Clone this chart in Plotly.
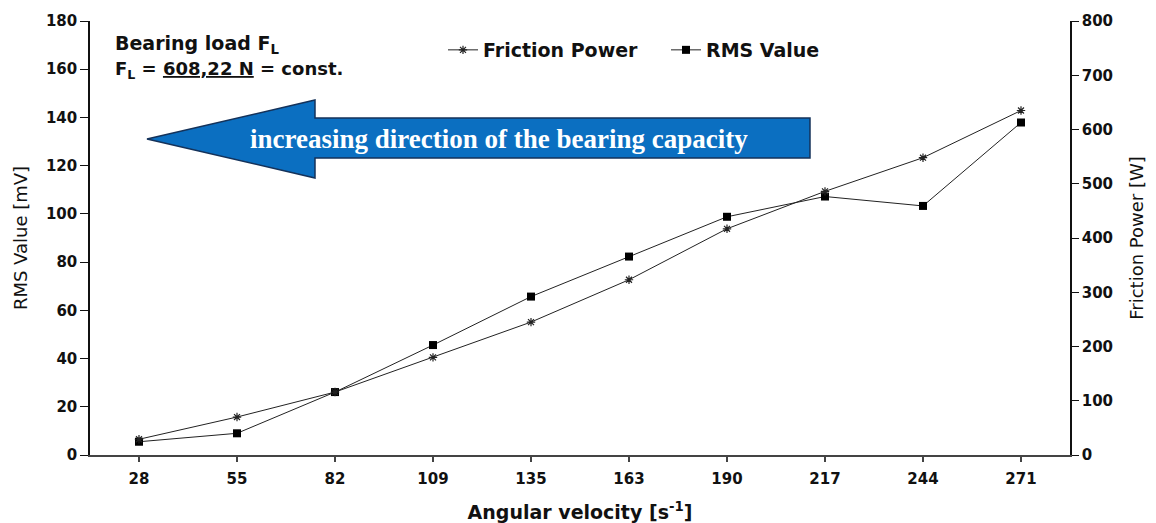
import plotly.graph_objects as go

# ---- data ----
categories = ["28", "55", "82", "109", "135", "163", "190", "217", "244", "271"]
rms_values = [5.5, 9.0, 26.1, 45.6, 65.7, 82.3, 98.8, 107.2, 103.3, 137.9]       # mV (left axis)
friction_power = [29, 70, 116, 180, 245, 323, 417, 486, 548, 635]                 # W (right axis)
left_ticks = [0, 20, 40, 60, 80, 100, 120, 140, 160, 180]
right_ticks = [0, 100, 200, 300, 400, 500, 600, 700, 800]

# ---- page geometry (page pixels; the page body adds an 8px offset) ----
OFF = 8
W, H = 1156, 523
PL, PR, PT, PB = 90, 1070, 21, 455          # plot area edges in page pixels
FW, FH = W - OFF, H - OFF
ML, MT = PL - OFF, PT - OFF
MR = FW - (PR - OFF)
MB = FH - (PB - OFF)
PW, PH = PR - PL, PB - PT


def px(x):
    return (x - PL) / PW


def py(y):
    return (PB - y) / PH


FONT = "DejaVu Sans"
INK = "#111111"

fig = go.Figure()
fig.add_trace(go.Scatter(
    x=categories, y=friction_power, name="Friction Power", yaxis="y2",
    mode="lines+markers",
    line=dict(color="#222222", width=1),
    marker=dict(symbol="asterisk-open", size=7, color="#222222",
                line=dict(color="#222222", width=1.2)),
))
fig.add_trace(go.Scatter(
    x=categories, y=rms_values, name="RMS Value", yaxis="y",
    mode="lines+markers",
    line=dict(color="#222222", width=1),
    marker=dict(symbol="square", size=8, color="#000000"),
))

n = len(categories)
boundaries = [i - 0.5 for i in range(n + 1)]

tickfont = dict(family=FONT, size=15, color=INK, weight="bold")
titlefont = dict(family=FONT, size=18, color=INK)

fig.update_layout(
    width=FW, height=FH,
    margin=dict(l=ML, r=MR, t=MT, b=MB),
    paper_bgcolor="white", plot_bgcolor="white",
    font=dict(family=FONT, color=INK),
    showlegend=True,
    legend=dict(
        orientation="h", x=px(443), y=py(50), xanchor="left", yanchor="middle",
        font=dict(family=FONT, size=19, color=INK, weight="bold"),
        bgcolor="rgba(0,0,0,0)", itemwidth=30,
        entrywidth=178, entrywidthmode="pixels",
    ),
    xaxis=dict(
        type="category", range=[-0.5, n - 0.5], automargin=False,
        showline=True, linecolor="#444444", linewidth=2,
        ticks="outside", ticklen=5, tickcolor="#444444", tickwidth=1.5,
        tickfont=tickfont, showgrid=False, zeroline=False,
        ticklabelstandoff=4,
        title=dict(text="<b>Angular velocity [s<sup>-1</sup>]</b>",
                   font=dict(family=FONT, size=19, color=INK), standoff=19),
    ),
    xaxis2=dict(
        overlaying="x", anchor="y", range=[-0.5, n - 0.5], automargin=False,
        tickvals=boundaries, ticks="outside", ticklen=5, tickcolor="#444444",
        tickwidth=1.5, showticklabels=False, showline=False, showgrid=False,
        zeroline=False,
    ),
    yaxis=dict(
        range=[0, 180], tickvals=left_ticks, automargin=False,
        showline=True, linecolor=INK, linewidth=1.5,
        ticks="outside", ticklen=8, tickcolor=INK, tickwidth=1.2,
        tickfont=tickfont, showgrid=False, zeroline=False,
        title=dict(text="RMS Value [mV]", font=titlefont, standoff=14),
    ),
    yaxis2=dict(
        overlaying="y", side="right", anchor="x", range=[0, 800], automargin=False,
        tickvals=right_ticks,
        showline=True, linecolor=INK, linewidth=1.5,
        ticks="outside", ticklen=7, tickcolor=INK, tickwidth=1.2,
        tickfont=tickfont, showgrid=False, zeroline=False,
        title=dict(text="Friction Power [W]", font=titlefont, standoff=18),
    ),
    yaxis3=dict(
        overlaying="y", side="left", anchor="x", range=[0, 180], automargin=False,
        tickvals=left_ticks, ticks="inside", ticklen=7, tickcolor=INK,
        tickwidth=1.2, showticklabels=False, showline=False, showgrid=False,
        zeroline=False,
    ),
    yaxis4=dict(
        overlaying="y", side="right", anchor="x", range=[0, 800], automargin=False,
        tickvals=right_ticks, ticks="inside", ticklen=7, tickcolor=INK,
        tickwidth=1.2, showticklabels=False, showline=False, showgrid=False,
        zeroline=False,
    ),
)

# ---- big blue arrow ----
pts = [(147, 139), (315, 100), (315, 118), (810, 118), (810, 158), (315, 158), (315, 178)]
path = "M " + " L ".join(f"{px(x):.5f},{py(y):.5f}" for x, y in pts) + " Z"
fig.add_shape(type="path", path=path, xref="paper", yref="paper",
              fillcolor="#0B6FC1", line=dict(color="#14325A", width=1.5), layer="above")

fig.add_annotation(
    x=px(499), y=py(139), xref="paper", yref="paper", showarrow=False,
    text="<b>increasing direction of the bearing capacity</b>",
    font=dict(family="Liberation Serif", size=27, color="white"),
    xanchor="center", yanchor="middle",
)

# ---- load note ----
fig.add_annotation(
    x=px(113), y=py(44), xref="paper", yref="paper", showarrow=False,
    text="<b>Bearing load F<sub>L</sub></b>",
    font=dict(family=FONT, size=19, color=INK), xanchor="left", yanchor="middle",
)
fig.add_annotation(
    x=px(113), y=py(70), xref="paper", yref="paper", showarrow=False,
    text="<b>F<sub>L</sub> = <u>608,22 N</u> = const.</b>",
    font=dict(family=FONT, size=18, color=INK), xanchor="left", yanchor="middle",
)

fig.write_html("out.html")
